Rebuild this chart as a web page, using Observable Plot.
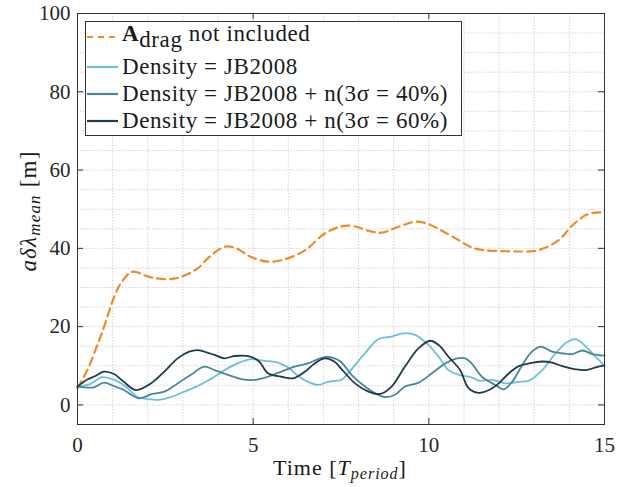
<!DOCTYPE html>
<html><head><meta charset="utf-8">
<script src="https://cdn.jsdelivr.net/npm/d3@7"></script>
<script src="https://cdn.jsdelivr.net/npm/@observablehq/plot@0.6"></script>
<style>
body{margin:0;background:#fff;}
#chart{width:617px;height:487px;}
</style></head>
<body><div id="chart"></div>
<script>
// ---- data ----
const orangeT = [0, 0.28, 0.51, 0.7, 1.04, 1.23, 1.56, 2.04, 2.56, 2.94, 3.42, 3.75, 4.18, 4.47, 4.94, 5.42, 5.9, 6.47, 7.04, 7.5, 7.85, 8.28, 8.66, 9.13, 9.61, 9.99, 10.37, 10.85, 11.23, 11.61, 12.09, 12.56, 12.99, 13.32, 13.7, 14.09, 14.47, 14.85, 15];
const orangeV = [4.3, 8.9, 14, 18.5, 27.5, 31, 34, 32.7, 32.1, 32.7, 34.9, 37.8, 40.4, 40.2, 37.8, 36.6, 37.2, 39.5, 43.8, 45.6, 45.7, 44.5, 44, 45.5, 46.8, 46.2, 44.5, 42.1, 40.2, 39.5, 39.3, 39.2, 39.3, 40.2, 42.1, 45.9, 48.5, 49.2, 49];

const lightT = [0, 0.37, 0.7, 0.99, 1.32, 1.7, 2.09, 2.32, 2.66, 3.04, 3.42, 3.75, 3.9, 4.28, 4.66, 4.94, 5.28, 5.7, 5.99, 6.28, 6.56, 6.85, 7.13, 7.37, 7.51, 7.8, 8.18, 8.56, 8.9, 9.28, 9.61, 9.99, 10.28, 10.56, 10.85, 11.23, 11.42, 11.8, 12.18, 12.56, 12.85, 13.23, 13.61, 13.94, 14.18, 14.47, 14.75, 15];
const lightV = [4.7, 5.4, 7.1, 6.6, 5.1, 2.1, 1.4, 1.3, 2, 3.4, 4.8, 6.4, 7.2, 9.4, 11, 11.7, 11.3, 10.8, 9.6, 7.4, 5.9, 5.1, 5.9, 6.2, 6.4, 9.1, 13.2, 16.8, 17.4, 18.3, 17.9, 15.3, 12.3, 8.9, 7.7, 7, 6.2, 6.4, 5.5, 5.9, 6.2, 8.9, 13.2, 16.1, 16.8, 14.9, 12.3, 10];

const midT = [0, 0.47, 0.75, 1.04, 1.32, 1.75, 2.13, 2.47, 2.85, 3.23, 3.61, 3.9, 4.28, 4.66, 5.04, 5.42, 5.8, 6.18, 6.56, 6.85, 7.08, 7.32, 7.51, 7.8, 8.18, 8.47, 8.75, 9.04, 9.32, 9.71, 10.09, 10.47, 10.8, 11.04, 11.23, 11.51, 11.89, 12.13, 12.37, 12.66, 12.9, 13.18, 13.51, 13.8, 14.09, 14.37, 14.66, 15];
const midV = [4.7, 4.5, 5.7, 4.8, 3.8, 1.7, 2.8, 3.4, 5.5, 7.7, 9.8, 8.9, 7.7, 6.6, 6.4, 7.2, 8.5, 9.8, 10.6, 11.7, 12.3, 11.9, 10.9, 7.7, 4.7, 3, 2, 2.6, 4.7, 5.7, 8.1, 10.6, 11.9, 11.9, 10.5, 7.2, 5.1, 4, 5.9, 10.2, 13.3, 14.9, 13.6, 13.2, 13, 13.9, 13, 12.6];

const darkT = [0, 0.28, 0.51, 0.75, 1.04, 1.32, 1.66, 2.09, 2.47, 2.85, 3.18, 3.42, 3.75, 3.9, 4.18, 4.47, 4.94, 5.18, 5.42, 5.8, 6.13, 6.47, 6.75, 7.04, 7.32, 7.51, 7.9, 8.28, 8.61, 8.94, 9.32, 9.71, 10.04, 10.28, 10.56, 10.89, 11.13, 11.42, 11.71, 11.99, 12.28, 12.56, 12.85, 13.23, 13.51, 13.8, 14.18, 14.47, 14.75, 15];
const darkV = [4.7, 6.5, 7.4, 8.5, 7.9, 5.9, 3.8, 5.5, 8.5, 11.9, 13.6, 14, 13.2, 12.8, 11.9, 12.5, 12.3, 11, 8.1, 7.2, 6.8, 8.5, 10.6, 11.9, 11, 9.2, 5.5, 3.4, 2.8, 4.7, 9.8, 14.5, 16.4, 15.3, 12.3, 8.9, 4.3, 3.1, 3.8, 5.5, 8.1, 9.9, 10.6, 11.1, 10.8, 9.9, 9.1, 8.9, 9.6, 10.1];

const seriesColors = ["#f08a2a", "#6fbfdb", "#4a8799", "#1f3b4b"];
const xTicks = [0, 5, 10, 15];
const yTicks = [0, 20, 40, 60, 80, 100];
const xMinor = [1, 2, 3, 4, 6, 7, 8, 9, 11, 12, 13, 14];
const yMinor = [-5, 5, 10, 15, 25, 30, 35, 45, 50, 55, 65, 70, 75, 85, 90, 95];
const legendTexts = ["Density = JB2008", "Density = JB2008 + n(3σ = 40%)", "Density = JB2008 + n(3σ = 60%)"];

const toRows = (T, V) => T.map((t, i) => ({t, v: V[i]}));
const orange = toRows(orangeT, orangeV);
const light = toRows(lightT, lightV);
const mid = toRows(midT, midV);
const dark = toRows(darkT, darkV);

const gridStyle = {stroke: "#d4d4d4", strokeDasharray: "1.5,1.5", strokeWidth: 1};
const axisColor = "#333";
const serif = "'Liberation Serif', serif";

const plot = Plot.plot({
  width: 617, height: 487,
  marginLeft: 77, marginRight: 13, marginTop: 13, marginBottom: 63,
  x: {domain: [0, 15]},
  y: {domain: [-5, 100]},
  style: {fontFamily: serif, fontSize: "21px", color: "#262626", background: "white"},
  marks: [
    Plot.ruleX(xMinor.concat([5, 10]), {x: d => d, ...gridStyle}),
    Plot.ruleY(yMinor.concat([0, 20, 40, 60, 80]), {y: d => d, ...gridStyle}),
    Plot.line(orange, {x: "t", y: "v", stroke: seriesColors[0], strokeWidth: 2.2, strokeDasharray: "8,5", curve: "catmull-rom"}),
    Plot.line(light, {x: "t", y: "v", stroke: seriesColors[1], strokeWidth: 1.8, curve: "catmull-rom"}),
    Plot.line(mid, {x: "t", y: "v", stroke: seriesColors[2], strokeWidth: 1.8, curve: "catmull-rom"}),
    Plot.line(dark, {x: "t", y: "v", stroke: seriesColors[3], strokeWidth: 1.8, curve: "catmull-rom"}),
    Plot.frame({stroke: axisColor, strokeWidth: 1}),
    Plot.tickX(xTicks, {x: d => d, insetTop: 405, stroke: axisColor}),
    Plot.tickX(xTicks, {x: d => d, insetBottom: 405, stroke: axisColor}),
    Plot.tickY(yTicks, {y: d => d, insetLeft: 521, stroke: axisColor}),
    Plot.tickY(yTicks, {y: d => d, insetRight: 521, stroke: axisColor}),
    Plot.axisX(xTicks, {tickSize: 0, tickPadding: 13, label: null}),
    Plot.axisY(yTicks, {tickSize: 0, tickPadding: 7, label: null})
  ]
});
document.getElementById("chart").append(plot);

// ---- legend & axis titles ----
const svg = d3.select(plot);
const g = svg.append("g").attr("font-family", serif).attr("font-size", 23)
  .attr("fill", "#1a1a1a").attr("text-anchor", "start");
g.append("rect").attr("x", 85.5).attr("y", 21.5).attr("width", 376).attr("height", 114)
  .attr("fill", "white").attr("stroke", axisColor);

const legendLineY = [37, 67, 94, 121];
const legendBase = [41, 74, 101, 128];
legendLineY.forEach((y, i) => {
  const l = g.append("line").attr("x1", 87).attr("x2", 118).attr("y1", y).attr("y2", y)
    .attr("stroke", seriesColors[i]).attr("stroke-width", i === 0 ? 2 : 2.2);
  if (i === 0) l.attr("stroke-dasharray", "6,5");
});
// row 1
const t1 = g.append("text").attr("x", 122).attr("y", legendBase[0]).attr("xml:space", "preserve")
  .attr("letter-spacing", 0.6);
t1.append("tspan").attr("font-weight", "bold").text("A");
t1.append("tspan").attr("dy", 6).text("drag");
t1.append("tspan").attr("dy", -6).text(" not included");
// rows 2-4
legendTexts.forEach((s, i) => {
  g.append("text").attr("x", 122).attr("y", legendBase[i + 1]).attr("xml:space", "preserve")
    .attr("letter-spacing", 0.6).text(s);
});

// x label
const xl = g.append("text").attr("x", 340).attr("y", 475).attr("text-anchor", "middle")
  .attr("xml:space", "preserve").attr("font-size", 22).attr("letter-spacing", 1);
xl.append("tspan").text("Time [");
xl.append("tspan").attr("font-style", "italic").text("T");
xl.append("tspan").attr("font-style", "italic").attr("font-size", 16).attr("dy", 4).text("period");
xl.append("tspan").attr("dy", -4).text("]");

// y label
const yl = g.append("text").attr("transform", "translate(36,211) rotate(-90)").attr("text-anchor", "middle")
  .attr("xml:space", "preserve").attr("font-size", 23).attr("letter-spacing", 1.2);
yl.append("tspan").attr("font-style", "italic").text("aδλ");
yl.append("tspan").attr("font-style", "italic").attr("font-size", 17).attr("dy", 4).text("mean");
yl.append("tspan").attr("dy", -4).text(" [m]");
</script>
</body></html>
